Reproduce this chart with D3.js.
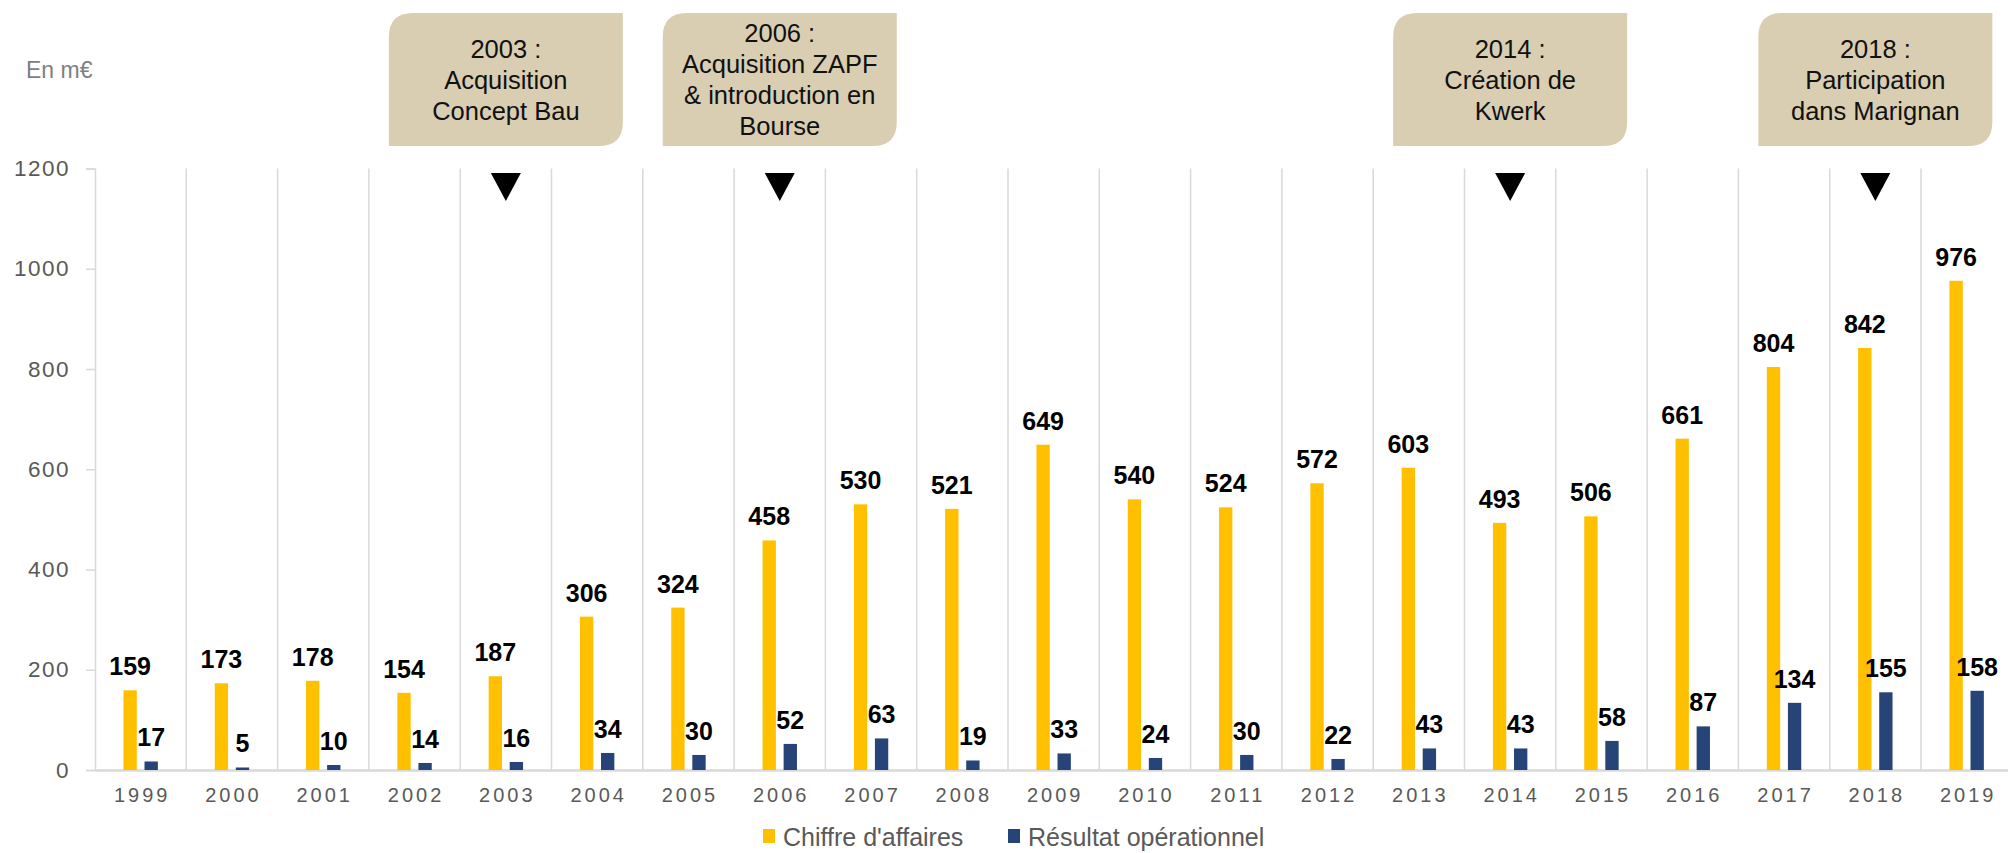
<!DOCTYPE html>
<html>
<head>
<meta charset="utf-8">
<script src="https://cdn.jsdelivr.net/npm/d3@7"></script>
<style>
  body { margin: 0; background: #fff; }
  text { font-family: "Liberation Sans", Arial, sans-serif; }
</style>
</head>
<body>
<script>
var width = 2008,
    height = 853;

// data
var years = ["1999","2000","2001","2002","2003","2004","2005","2006","2007","2008","2009",
             "2010","2011","2012","2013","2014","2015","2016","2017","2018","2019"];
var chiffreAffaires = [159,173,178,154,187,306,324,458,530,521,649,540,524,572,603,493,506,661,804,842,976];
var resultatOp = [17,5,10,14,16,34,30,52,63,19,33,24,30,22,43,43,58,87,134,155,158];
var seriesNames = ["Chiffre d'affaires", "Résultat opérationnel"];
var seriesColors = ["#FFC000", "#264478"];
var yTicks = [0,200,400,600,800,1000,1200];
var calloutYears = ["2003","2006","2014","2018"];
var calloutLines = [
  ["2003 :", "Acquisition", "Concept Bau"],
  ["2006 :", "Acquisition ZAPF", "& introduction en", "Bourse"],
  ["2014 :", "Création de", "Kwerk"],
  ["2018 :", "Participation", "dans Marignan"]
];

var svg = d3.select("body").append("svg").attr("width", width).attr("height", height);

var x = d3.scaleBand()
    .domain(years)
    .range([95, 95 + 21 * 91.3])
    .padding(0);

var x1 = d3.scaleBand()
    .domain([0, 1])
    .range([x.bandwidth() / 2 - 17.2, x.bandwidth() / 2 + 17.2])
    .paddingInner(0.367);

var y = d3.scaleLinear()
    .domain([0, 1200])
    .range([770, 168.5]);

var gridColor = "#d9d9d9";

// vertical separators between years
svg.append("g").selectAll("line").data(years.slice(1)).enter().append("line")
    .attr("x1", d => x(d)).attr("x2", d => x(d))
    .attr("y1", y(1200)).attr("y2", y(0))
    .attr("stroke", gridColor).attr("stroke-width", 1.5);

// y axis
var yAxis = d3.axisLeft(y).tickValues(yTicks).tickFormat(d3.format("d")).tickSize(9).tickPadding(16);
var gy = svg.append("g").attr("transform", "translate(95,0)").call(yAxis);
gy.select(".domain").attr("stroke", gridColor).attr("stroke-width", 1.5);
gy.selectAll(".tick line").attr("stroke", gridColor).attr("stroke-width", 1.5);
gy.selectAll(".tick text")
    .attr("fill", "#595959")
    .style("font-size", "22.5px")
    .style("letter-spacing", "1.5px")
    .style("font-family", "'Liberation Sans', Arial, sans-serif");

// x axis
var xAxis = d3.axisBottom(x).tickSize(0).tickPadding(18);
var gx = svg.append("g").attr("transform", "translate(0," + y(0) + ")").call(xAxis);
gx.select(".domain").attr("stroke", gridColor).attr("stroke-width", 2.5);
gx.selectAll(".tick text")
    .attr("fill", "#595959")
    .attr("dx", "1.5px")
    .style("font-size", "20px")
    .style("letter-spacing", "3px")
    .style("font-family", "'Liberation Sans', Arial, sans-serif");

// bars
var rows = years.map(function (yr, i) {
  return { year: yr, vals: [chiffreAffaires[i], resultatOp[i]] };
});

var groups = svg.append("g").selectAll("g").data(rows).enter().append("g")
    .attr("transform", d => "translate(" + x(d.year) + ",0)");

groups.selectAll("rect").data(d => d.vals.map((v, k) => ({ k: k, v: v }))).enter().append("rect")
    .attr("x", d => x1(d.k))
    .attr("width", x1.bandwidth())
    .attr("y", d => y(d.v))
    .attr("height", d => y(0) - y(d.v))
    .attr("fill", d => seriesColors[d.k]);

groups.selectAll("text.val").data(d => d.vals.map((v, k) => ({ k: k, v: v }))).enter().append("text")
    .attr("class", "val")
    .attr("x", d => x1(d.k) + x1.bandwidth() / 2)
    .attr("y", d => y(d.v) - 15)
    .attr("text-anchor", "middle")
    .attr("font-weight", "bold")
    .attr("font-size", 25)
    .attr("fill", "#000")
    .text(d => d.v);

// unit label
svg.append("text")
    .attr("x", 26).attr("y", 78)
    .attr("font-size", 23)
    .attr("fill", "#7f7f7f")
    .text("En m€");

// callouts
var boxW = 234, boxTop = 13, boxH = 133, r = 24;
function boxPath(cx) {
  var x0 = cx - boxW / 2, x2 = cx + boxW / 2, y0 = boxTop, y2 = boxTop + boxH;
  return "M" + x0 + "," + (y0 + r) +
    " Q" + x0 + "," + y0 + " " + (x0 + r) + "," + y0 +
    " L" + x2 + "," + y0 +
    " L" + x2 + "," + (y2 - r) +
    " Q" + x2 + "," + y2 + " " + (x2 - r) + "," + y2 +
    " L" + x0 + "," + y2 + " Z";
}

var callouts = svg.append("g").selectAll("g").data(calloutYears).enter().append("g");

callouts.append("path")
    .attr("d", d => boxPath(x(d) + x.bandwidth() / 2))
    .attr("fill", "#d9ceb2");

callouts.each(function (d, i) {
  var lines = calloutLines[i];
  var cx = x(d) + x.bandwidth() / 2;
  var mid = boxTop + boxH / 2;
  var lh = 31;
  d3.select(this).selectAll("text").data(lines).enter().append("text")
      .attr("x", cx)
      .attr("y", (l, j) => mid + (j - (lines.length - 1) / 2) * lh + 9)
      .attr("text-anchor", "middle")
      .attr("font-size", 25.5)
      .attr("fill", "#111")
      .text(l => l);
});

// triangles pointing down
callouts.append("path")
    .attr("d", function (d) {
      var cx = x(d) + x.bandwidth() / 2;
      return "M" + (cx - 15) + ",173 L" + (cx + 15) + ",173 L" + cx + ",201 Z";
    })
    .attr("fill", "#000");

// legend
var legendX = [763, 1008];
var legend = svg.append("g").selectAll("g").data(seriesNames).enter().append("g")
    .attr("transform", (d, i) => "translate(" + legendX[i] + ",0)");
legend.append("rect")
    .attr("x", 0).attr("y", 829).attr("width", 12).attr("height", 14)
    .attr("fill", (d, i) => seriesColors[i]);
legend.append("text")
    .attr("x", 20).attr("y", 846)
    .attr("font-size", 25)
    .attr("fill", "#595959")
    .text(d => d);
</script>
</body>
</html>
